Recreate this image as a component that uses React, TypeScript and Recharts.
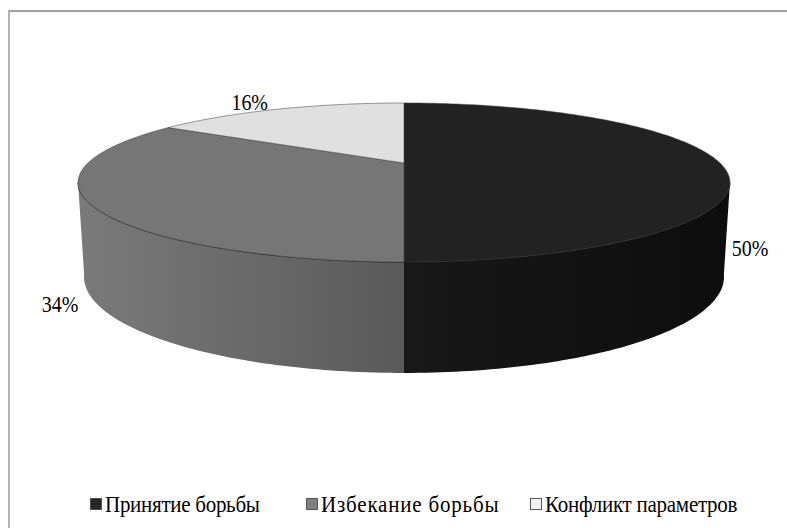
import React from 'react';
import { PieChart, Pie, Legend } from 'recharts';

const categories = ['Принятие борьбы', 'Избекание борьбы', 'Конфликт параметров'];
const shares = [50, 34, 16];
const sliceColors = ['#222222', '#767676', '#e0e0e0'];
const legendColors = ['#262626', '#7f7f7f', '#f2f2f2'];
// side wall gradient, colour at the outer edge -> colour at the front
const sideColors = [
  ['#0d0d0d', '#181818'],
  ['#7a7a7a', '#5a5a5a'],
  ['#e0e0e0', '#e0e0e0'],
];

const tableData = categories.map((name, i) => ({ name, value: shares[i], fill: sliceColors[i] }));

// perspective of the tilted disc: top rim and bottom rim planes
const TOP = { scale: 1, tilt: 0.2365, persp: -0.2453, drop: 0 };
const BOTTOM = { scale: 0.975, tilt: 0.2817, persp: -0.27, drop: 88 };
const VISIBLE_FROM = 104.2;
const VISIBLE_TO = 255.8;

const FONT = '"Liberation Serif", "Times New Roman", serif';
const TEXT_STRETCH = 1.18;
const labelOffsets = [
  { dx: 30, dy: 88 },
  { dx: -30, dy: 103 },
  { dx: -29, dy: -5 },
];
const legendStarts = [90, 306, 530];
const legendSpacing = [-0.28, 0.8, -0.26];

type Plane = typeof TOP;

// theta is measured clockwise from the far point of the disc
const project = (cx: number, cy: number, r: number, theta: number, plane: Plane) => {
  const rad = (theta * Math.PI) / 180;
  const u = Math.sin(rad);
  const v = -Math.cos(rad);
  const w = 1 + plane.persp * v;
  return {
    x: cx + (r * plane.scale * u) / w,
    y: cy + plane.drop + (r * plane.tilt * v) / w,
  };
};

const rimPoints = (cx: number, cy: number, r: number, from: number, to: number, plane: Plane) => {
  const steps = Math.max(2, Math.ceil(Math.abs(to - from)));
  const pts = [];
  for (let i = 0; i <= steps; i++) {
    pts.push(project(cx, cy, r, from + ((to - from) * i) / steps, plane));
  }
  return pts;
};

const toPath = (pts: { x: number; y: number }[]) =>
  pts.map((p, i) => `${i ? 'L' : 'M'}${p.x.toFixed(2)},${p.y.toFixed(2)}`).join(' ');

const Slice3D = (props: any) => {
  const { cx, cy, outerRadius, startAngle, endAngle, fill, index } = props;
  const from = 90 - startAngle;
  const to = 90 - endAngle;
  const top = rimPoints(cx, cy, outerRadius, from, to, TOP);
  const topPath = `${toPath(top)} L${cx},${cy} Z`;

  const sideFrom = Math.max(from, VISIBLE_FROM);
  const sideTo = Math.min(to, VISIBLE_TO);
  let side = null;
  if (sideTo > sideFrom) {
    const upper = rimPoints(cx, cy, outerRadius, sideFrom, sideTo, TOP);
    const lower = rimPoints(cx, cy, outerRadius, sideFrom, sideTo, BOTTOM).reverse();
    side = (
      <>
        <path d={`${toPath(upper)} L${toPath(lower).slice(1)} Z`} fill={`url(#side${index})`} stroke="none" />
        <path d={toPath(upper)} fill="none" stroke="#111111" strokeWidth={0.8} />
      </>
    );
  }

  return (
    <g>
      {side}
      <path d={topPath} fill={fill} stroke="#3a3a3a" strokeWidth={0.5} />
    </g>
  );
};

const renderLabel = (props: any) => {
  const { cx, cy, outerRadius, midAngle, index, value } = props;
  const rim = project(cx, cy, outerRadius, 90 - midAngle, TOP);
  const off = labelOffsets[index];
  return (
    <text
      transform={`translate(${rim.x + off.dx} ${rim.y + off.dy}) scale(1 ${TEXT_STRETCH})`}
      textAnchor="middle"
      dominantBaseline="middle"
      fontFamily={FONT}
      fontSize={20}
      fill="#000000"
    >
      {`${value}%`}
    </text>
  );
};

const LegendRow = () => (
  <div style={{ position: 'relative', width: 787, height: 30, fontFamily: FONT, fontSize: 21, color: '#000', lineHeight: '24px' }}>
    {categories.map((name, i) => (
      <div key={name} style={{ position: 'absolute', left: legendStarts[i], top: 0, display: 'flex', alignItems: 'center', whiteSpace: 'nowrap' }}>
        <span
          style={{
            display: 'inline-block',
            width: 12,
            height: 12,
            background: legendColors[i],
            border: '1px solid #555',
            boxSizing: 'border-box',
            marginRight: 3,
          }}
        />
        <span style={{ display: 'inline-block', transform: 'scaleY(1.12)', letterSpacing: legendSpacing[i] }}>{name}</span>
      </div>
    ))}
  </div>
);

export default function App() {
  return (
    <div style={{ position: 'absolute', left: 0, top: 0, width: 787, height: 528, overflow: 'hidden', background: '#fff' }}>
      <div
        style={{
          position: 'absolute',
          left: 8,
          top: 10,
          width: 779,
          height: 518,
          borderLeft: '2px solid #b4b4b4',
          borderTop: '2px solid #a0a0a0',
          boxSizing: 'border-box',
        }}
      />
      <PieChart
        width={787}
        height={528}
        margin={{ top: 0, right: 0, bottom: 0, left: 0 }}
        style={{ position: 'absolute', left: 0, top: 0 }}
      >
        <defs>
          {sideColors.map((c, i) => (
            <linearGradient
              key={i}
              id={`side${i}`}
              x1={i === 0 ? 1 : 0}
              y1={0}
              x2={i === 0 ? 0 : 1}
              y2={0}
            >
              <stop offset="0%" stopColor={c[0]} />
              <stop offset="100%" stopColor={c[1]} />
            </linearGradient>
          ))}
        </defs>
        <Pie
          data={tableData}
          dataKey="value"
          nameKey="name"
          cx={404}
          cy={163}
          outerRadius={316}
          startAngle={90}
          endAngle={-270}
          paddingAngle={0}
          shape={Slice3D}
          label={renderLabel}
          labelLine={false}
          isAnimationActive={false}
        />
        <Legend
          content={<LegendRow />}
          wrapperStyle={{ position: 'absolute', left: 0, top: 492, width: 787 }}
        />
      </PieChart>
    </div>
  );
}
